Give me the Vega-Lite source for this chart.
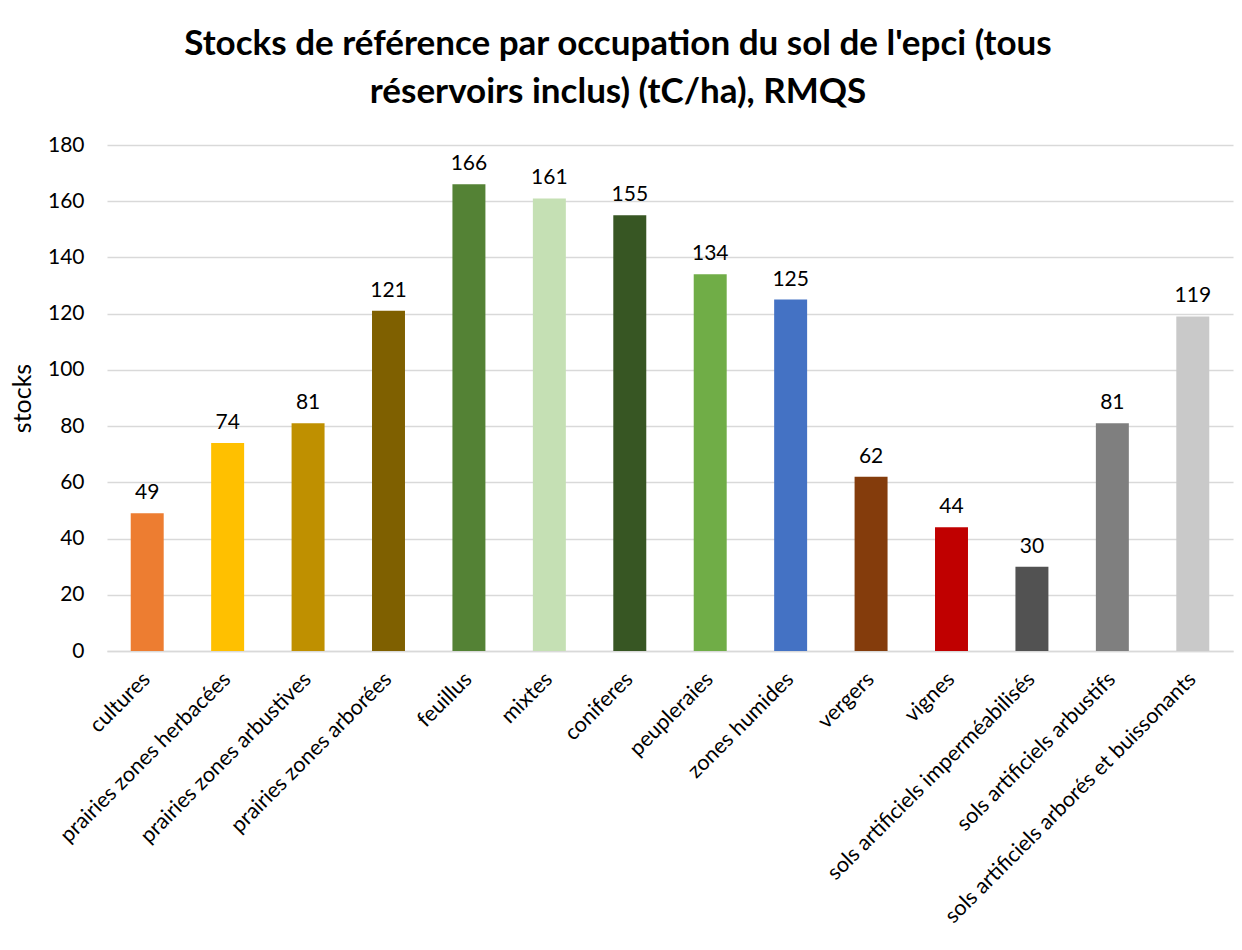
{
  "$schema": "https://vega.github.io/schema/vega-lite/v6.json",
  "autosize": {"type": "none"},
  "width": 1126,
  "height": 506,
  "padding": {"left": 107, "top": 145, "right": 9, "bottom": 299},
  "background": "white",
  "title": {
    "text": ["Stocks de référence par occupation du sol de l'epci (tous", "réservoirs inclus) (tC/ha), RMQS"],
    "font": "Lato",
    "fontWeight": "bold",
    "fontSize": 35,
    "lineHeight": 48,
    "color": "#000000",
    "anchor": "middle",
    "dx": -52,
    "offset": 24
  },
  "data": {
    "values": [
      {"occupation": "cultures", "stocks": 49, "color": "#ED7D31"},
      {"occupation": "prairies zones herbacées", "stocks": 74, "color": "#FFC000"},
      {"occupation": "prairies zones arbustives", "stocks": 81, "color": "#BF9000"},
      {"occupation": "prairies zones arborées", "stocks": 121, "color": "#7F6000"},
      {"occupation": "feuillus", "stocks": 166, "color": "#548235"},
      {"occupation": "mixtes", "stocks": 161, "color": "#C5E0B4"},
      {"occupation": "coniferes", "stocks": 155, "color": "#375623"},
      {"occupation": "peupleraies", "stocks": 134, "color": "#70AD47"},
      {"occupation": "zones humides", "stocks": 125, "color": "#4472C4"},
      {"occupation": "vergers", "stocks": 62, "color": "#843C0C"},
      {"occupation": "vignes", "stocks": 44, "color": "#C00000"},
      {"occupation": "sols artificiels imperméabilisés", "stocks": 30, "color": "#525252"},
      {"occupation": "sols artificiels arbustifs", "stocks": 81, "color": "#7F7F7F"},
      {"occupation": "sols artificiels arborés et buissonants", "stocks": 119, "color": "#C9C9C9"}
    ]
  },
  "encoding": {
    "x": {
      "field": "occupation",
      "type": "nominal",
      "sort": null,
      "scale": {"paddingInner": 0.59, "paddingOuter": 0.295},
      "axis": {
        "title": null,
        "labelAngle": -45,
        "labelAlign": "right",
        "labelBaseline": "middle",
        "labelFont": "Lato",
        "labelFontSize": 21.5,
        "labelColor": "#000000",
        "labelPadding": 25,
        "labelLimit": 600,
        "ticks": false,
        "domain": true,
        "domainColor": "#D9D9D9",
        "domainWidth": 1.5,
        "grid": false
      }
    },
    "y": {
      "field": "stocks",
      "type": "quantitative",
      "scale": {"domain": [0, 180], "nice": false},
      "axis": {
        "title": "stocks",
        "titleFont": "Lato",
        "titleFontSize": 25,
        "titleFontWeight": "normal",
        "titleColor": "#000000",
        "titlePadding": 12,
        "values": [0, 20, 40, 60, 80, 100, 120, 140, 160, 180],
        "labelFont": "Lato",
        "labelFontSize": 21,
        "labelColor": "#000000",
        "labelPadding": 23,
        "ticks": false,
        "domain": false,
        "grid": true,
        "gridColor": "#D9D9D9",
        "gridWidth": 1.5
      }
    }
  },
  "layer": [
    {
      "mark": {"type": "bar"},
      "encoding": {
        "color": {"field": "color", "type": "nominal", "scale": null, "legend": null}
      }
    },
    {
      "mark": {"type": "text", "font": "Lato", "fontSize": 21, "color": "#000000", "baseline": "alphabetic", "dy": -14},
      "encoding": {
        "text": {"field": "stocks", "type": "quantitative"}
      }
    }
  ],
  "config": {"view": {"stroke": null}}
}
